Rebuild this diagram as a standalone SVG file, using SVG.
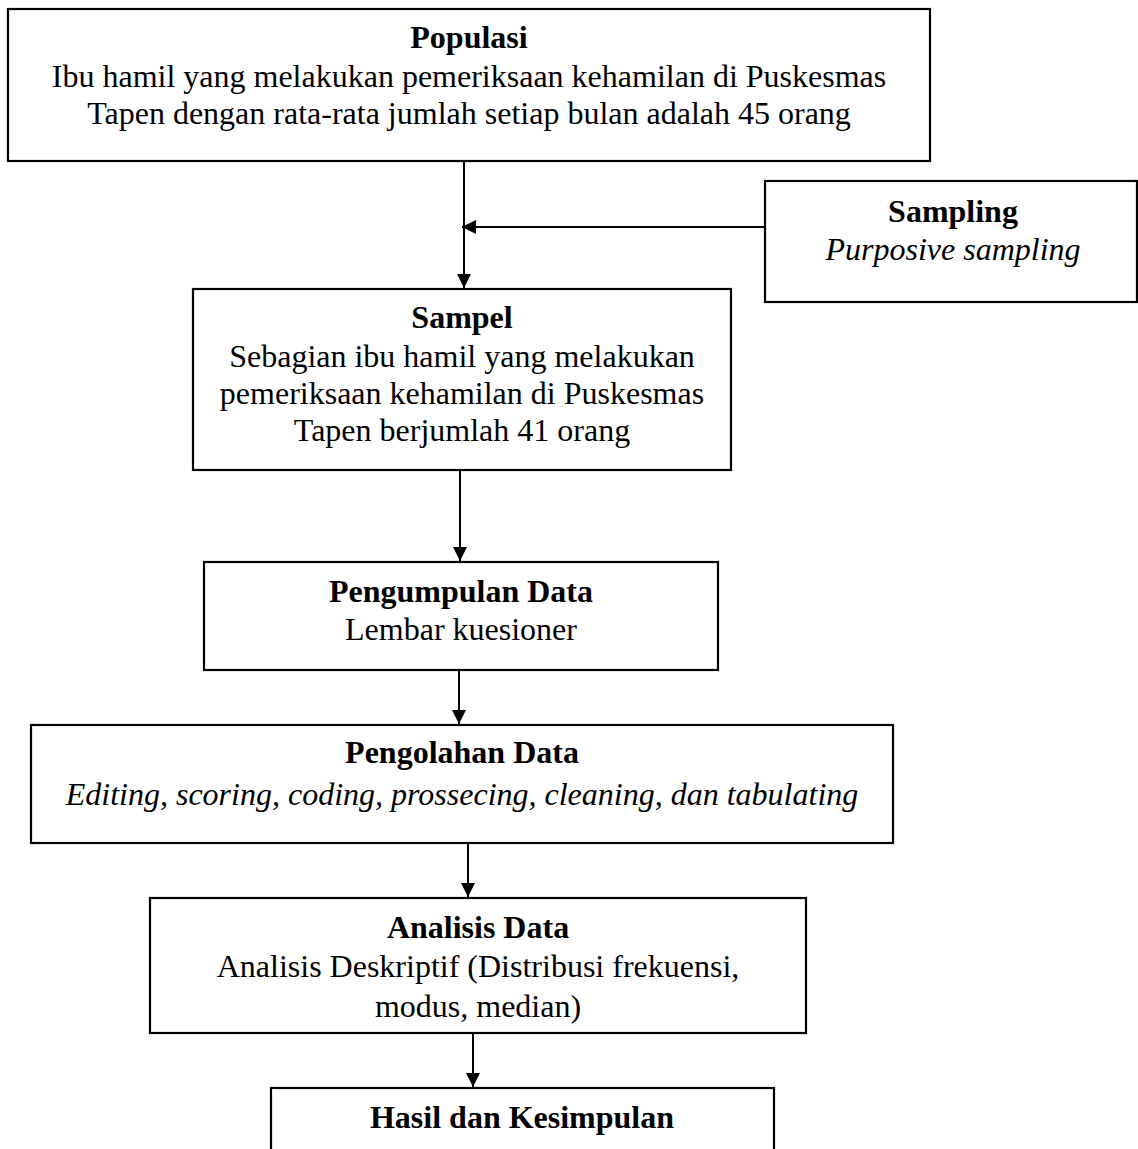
<svg xmlns="http://www.w3.org/2000/svg" width="1138" height="1149" viewBox="0 0 1138 1149">
<style>
.box{fill:#fff;stroke:#000;stroke-width:2.2}
text{font-family:"Liberation Serif","Times New Roman",serif;font-size:32px;fill:#000;text-anchor:middle}
.b{font-weight:bold}
.i{font-style:italic}
.ln{stroke:#000;stroke-width:2;fill:none}
</style>
<defs>
<marker id="ah" viewBox="0 0 14 14" refX="14" refY="7" markerWidth="14" markerHeight="14" markerUnits="userSpaceOnUse" orient="auto">
<path d="M0,0 L14,7 L0,14 Z" fill="#000"/>
</marker>
</defs>
<rect width="1138" height="1149" fill="#fff"/>
<g id="connectors">
<line class="ln" x1="464" y1="161" x2="464" y2="288" marker-end="url(#ah)"/>
<line class="ln" x1="765" y1="227" x2="462" y2="227" marker-end="url(#ah)"/>
<line class="ln" x1="460" y1="470" x2="460" y2="561" marker-end="url(#ah)"/>
<line class="ln" x1="459" y1="670" x2="459" y2="724" marker-end="url(#ah)"/>
<line class="ln" x1="468" y1="843" x2="468" y2="897" marker-end="url(#ah)"/>
<line class="ln" x1="473" y1="1033" x2="473" y2="1087" marker-end="url(#ah)"/>
</g>
<g id="populasi">
<rect class="box" x="8" y="9" width="922" height="152"/>
<text class="b" x="469" y="48">Populasi</text>
<text x="469" y="87">Ibu hamil yang melakukan pemeriksaan kehamilan di Puskesmas</text>
<text x="469" y="124">Tapen dengan rata-rata jumlah setiap bulan adalah 45 orang</text>
</g>
<g id="sampling">
<rect class="box" x="765" y="181" width="372" height="121"/>
<text class="b" x="953" y="222">Sampling</text>
<text class="i" x="953" y="260">Purposive sampling</text>
</g>
<g id="sampel">
<rect class="box" x="193" y="289" width="538" height="181"/>
<text class="b" x="462" y="328">Sampel</text>
<text x="462" y="367">Sebagian ibu hamil yang melakukan</text>
<text x="462" y="404">pemeriksaan kehamilan di Puskesmas</text>
<text x="462" y="441">Tapen berjumlah 41 orang</text>
</g>
<g id="pengumpulan">
<rect class="box" x="204" y="562" width="514" height="108"/>
<text class="b" x="461" y="602">Pengumpulan Data</text>
<text x="461" y="640">Lembar kuesioner</text>
</g>
<g id="pengolahan">
<rect class="box" x="31" y="725" width="862" height="118"/>
<text class="b" x="462" y="763">Pengolahan Data</text>
<text class="i" x="462" y="805">Editing, scoring, coding, prossecing, cleaning, dan tabulating</text>
</g>
<g id="analisis">
<rect class="box" x="150" y="898" width="656" height="135"/>
<text class="b" x="478" y="938">Analisis Data</text>
<text x="478" y="977">Analisis Deskriptif (Distribusi frekuensi,</text>
<text x="478" y="1017">modus, median)</text>
</g>
<g id="hasil">
<rect class="box" x="271" y="1088" width="503" height="80"/>
<text class="b" x="522" y="1128">Hasil dan Kesimpulan</text>
</g>
</svg>
